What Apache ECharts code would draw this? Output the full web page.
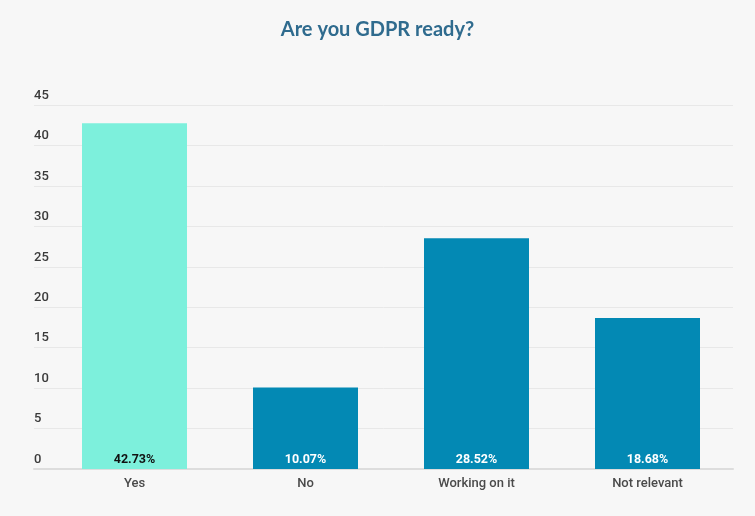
<!DOCTYPE html>
<html>
<head>
<meta charset="utf-8">
<script src="https://cdn.jsdelivr.net/npm/echarts@6/dist/echarts.min.js"></script>
<style>
html,body{margin:0;padding:0;background:#f7f7f7;}
#c{width:755px;height:516px;}
</style>
</head>
<body>
<div id="c"></div>
<script>
const categories = ['Yes', 'No', 'Working on it', 'Not relevant'];
const values = [42.73, 10.07, 28.52, 18.68];
const colors = ['#7df0dc', '#0389b4', '#0389b4', '#0389b4'];
const labelColors = ['#111111', '#ffffff', '#ffffff', '#ffffff'];
const yMin = 0, yMax = 45, yInterval = 5;

const chart = echarts.init(document.getElementById('c'));
chart.setOption({
  backgroundColor: '#f7f7f7',
  animation: false,
  title: {
    text: 'Are you GDPR ready?',
    left: 'center',
    top: 15,
    textStyle: { color: '#2f6b8e', fontSize: 20, fontWeight: 'bold', fontFamily: 'Lato' }
  },
  grid: [
    { left: 34, right: 22, top: 105, bottom: 47 },
    { left: 49, right: 22, top: 105, bottom: 47 }
  ],
  xAxis: [
    { gridIndex: 0, type: 'category', data: [''], axisLabel: { show: false }, axisTick: { show: false },
      axisLine: { show: true, lineStyle: { color: '#dddddd', width: 2 } } },
    { gridIndex: 1, type: 'category', data: categories, axisTick: { show: false },
      axisLine: { show: false },
      axisLabel: { color: '#4a4a4a', fontSize: 13, fontWeight: 500, fontFamily: 'Roboto', margin: 8 } }
  ],
  yAxis: [
    { gridIndex: 0, type: 'value', min: yMin, max: yMax, interval: yInterval,
      axisLine: { show: false }, axisTick: { show: false },
      axisLabel: { inside: true, verticalAlign: 'bottom', color: '#3a3a3a', fontSize: 13, fontWeight: 500, fontFamily: 'Roboto', padding: [0, 0, 3, 0], margin: 0 },
      splitLine: { lineStyle: { color: '#e8e8e8', width: 1 } } },
    { gridIndex: 1, type: 'value', min: yMin, max: yMax, interval: yInterval,
      show: false, splitLine: { show: false } }
  ],
  series: [{
    type: 'bar',
    xAxisIndex: 1,
    yAxisIndex: 1,
    barWidth: 105,
    data: values.map((v, i) => ({
      value: v,
      itemStyle: { color: colors[i] },
      label: { color: labelColors[i] }
    })),
    label: {
      show: true,
      position: 'insideBottom',
      distance: 3,
      formatter: p => p.value.toFixed(2) + '%',
      fontSize: 12.5,
      fontWeight: 'bold',
      fontFamily: 'Roboto'
    }
  }]
});
</script>
</body>
</html>
